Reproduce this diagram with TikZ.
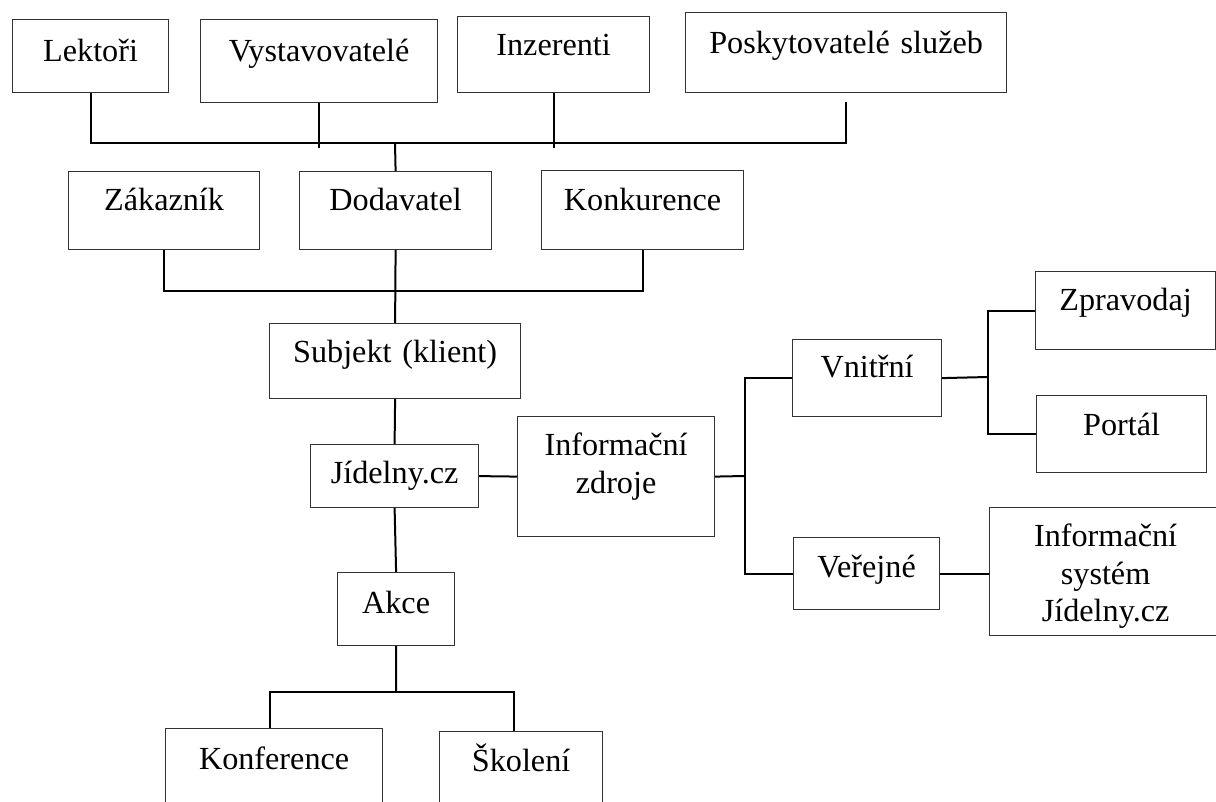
\documentclass[tikz,border=0pt]{standalone}
\usepackage{fontspec}
\setmainfont{Liberation Serif}
\usepackage{tikz}

\begin{document}
\begin{tikzpicture}[x=1pt, y=-1pt,
    box/.style={draw=black!80, line width=1.2pt, inner sep=0pt, align=center,
                anchor=north west, font=\fontsize{32.2}{37.5}\selectfont},
    wire/.style={line width=2pt}]
        \useasboundingbox (0,0) rectangle (1216,802);
        \clip (0,0) rectangle (1216,802);

        % Define the boxes
        \node[box, text width=156pt, text height=42pt, text depth=31pt] (lek) at (12,19) {Lektoři};
        \node[box, text width=237pt, text height=42pt, text depth=41pt] (vys) at (200,19) {Vystavovatelé};
        \node[box, text width=192pt, text height=39pt, text depth=37pt] (inz) at (457,16) {Inzerenti};
        \node[box, text width=321pt, text height=41pt, text depth=39pt] (pos) at (685,12) {Poskytovatelé služeb};

        \node[box, text width=191pt, text height=39pt, text depth=39pt] (zak) at (68,171) {Zákazník};
        \node[box, text width=192pt, text height=39pt, text depth=39pt] (dod) at (299,171) {Dodavatel};
        \node[box, text width=202pt, text height=40pt, text depth=39pt] (kon) at (541,170) {Konkurence};

        \node[box, text width=251pt, text height=39pt, text depth=36pt] (sub) at (269,323) {Subjekt (klient)};
        \node[box, text width=168pt, text height=39pt, text depth=24pt] (jid) at (310,444) {Jídelny.cz};
        \node[box, text width=197pt, text height=39pt, text depth=81pt] (inf) at (517,416) {Informační\\zdroje};
        \node[box, text width=117pt, text height=41pt, text depth=32pt] (akc) at (337,572) {Akce};
        \node[box, text width=217pt, text height=41pt, text depth=60pt] (kof) at (165,728) {Konference};
        \node[box, text width=163pt, text height=40pt, text depth=60pt] (sko) at (439,731) {Školení};

        \node[box, text width=149pt, text height=38pt, text depth=39pt] (vni) at (792,339) {Vnitřní};
        \node[box, text width=146pt, text height=40pt, text depth=32pt] (ver) at (793,537) {Veřejné};
        \node[box, text width=180pt, text height=39pt, text depth=39pt] (zpr) at (1035,271) {Zpravodaj};
        \node[box, text width=170pt, text height=40pt, text depth=37pt] (por) at (1036,395) {Portál};
        \node[box, text width=232pt, text height=39pt, text depth=89pt] (ist) at (989,507) {Informační\\systém\\Jídelny.cz};

        % Define the joints
        \coordinate (b1) at (395,143);
        \coordinate (b2) at (395,291);
        \coordinate (b3) at (745,476);
        \coordinate (b4) at (988,377);
        \coordinate (b5) at (396,692);

        % Define the lines
        \draw[wire] (lek.south) |- (b1) -| ([yshift=-9pt]pos.south);
        \draw[wire] (vys.south) -- (vys.south |- 0,148);
        \draw[wire] (inz.south) -- (inz.south |- 0,148);
        \draw[wire] (b1) -- (dod.north);

        \draw[wire] (zak.south) |- (b2) -| (kon.south);
        \draw[wire] (dod.south) -- (sub.north);
        \draw[wire] (sub.south) -- (jid.north);
        \draw[wire] (jid.east) -- (inf.west);
        \draw[wire] (jid.south) -- (akc.north);

        \draw[wire] (inf.east) -- (b3);
        \draw[wire] (vni.west) -| (b3) |- (ver.west);
        \draw[wire] (vni.east) -- (b4);
        \draw[wire] (zpr.west) -| (b4) |- (por.west);
        \draw[wire] (ver.east) -- (ver.east -| ist.west);

        \draw[wire] (akc.south) -- (b5);
        \draw[wire] ([xshift=-4pt]kof.north) |- (b5) -| ([xshift=-7pt]sko.north);
\end{tikzpicture}
\end{document}
